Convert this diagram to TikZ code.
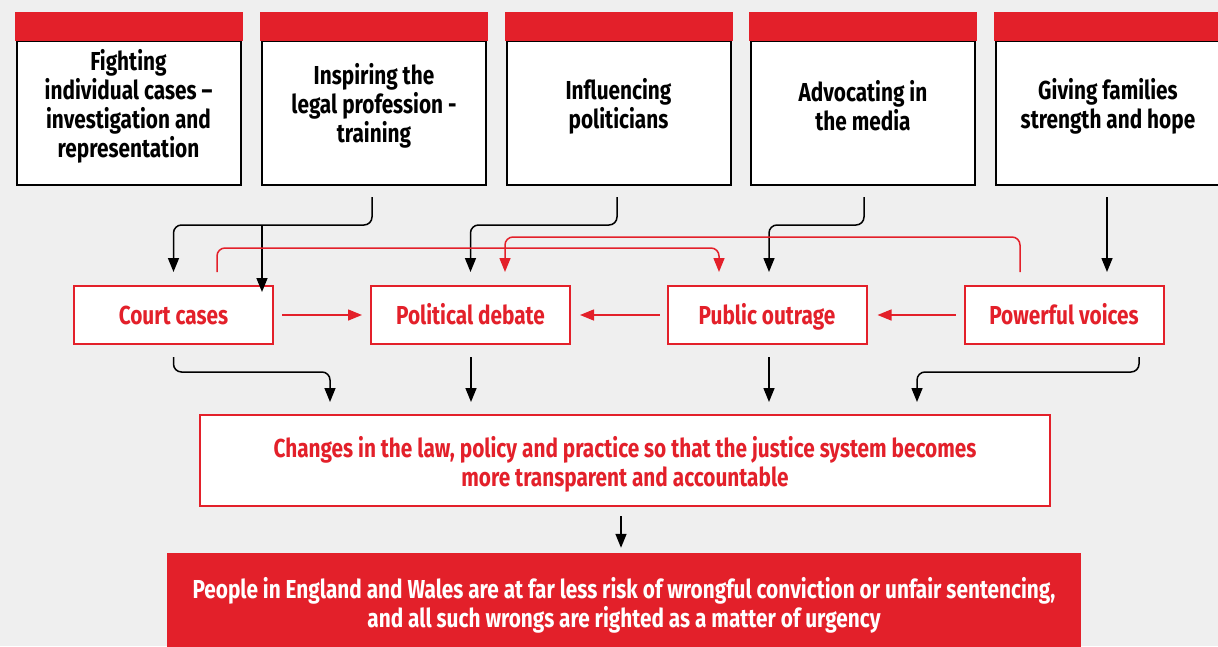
\documentclass[tikz,border=0pt]{standalone}
\usepackage{fontspec}
\setmainfont{Fira Sans}[FakeStretch=0.80]
\usetikzlibrary{arrows.meta,calc}
\definecolor{brandred}{HTML}{E3202A}
\definecolor{paper}{HTML}{EFEFEF}
\begin{document}
\begin{tikzpicture}[x=1pt,y=-1pt,
  txt/.style={font=\bfseries\fontsize{26}{29}\selectfont, align=center, inner sep=0pt},
  actbox/.style={draw=black, line width=2pt, fill=white, minimum width=224pt, minimum height=144pt, inner sep=0pt},
  midbox/.style={draw=brandred, line width=2pt, fill=white, minimum width=199pt, minimum height=58pt, text=brandred, txt, text height=21pt, text depth=3pt},
  blk/.style={draw=black, line width=1.5pt, rounded corners=8pt, -{Triangle[length=14pt,width=11pt]}},
  redarr/.style={draw=brandred, line width=1.5pt, rounded corners=8pt, -{Triangle[length=14pt,width=11pt]}}]
\fill[paper] (0,0) rectangle (1218,646);
\useasboundingbox (0,0) rectangle (1218,646);

% activity boxes with red header bands
\foreach \n/\x in {1/128.5, 2/374, 3/618.5, 4/863, 5/1108} {
  \node[actbox] (a\n) at (\x,113) {};
  \fill[brandred] ($(a\n.north west)+(-1,1)$) rectangle ($(a\n.north east)+(1,-28)$);
}
\node[txt] (t1) at (128.5,106) {Fighting\\individual cases –\\investigation and\\representation};
\node[txt] (t2) at (374,106) {Inspiring the\\legal profession -\\training};
\node[txt] (t3) at (618.5,106) {Influencing\\politicians};
\node[txt] (t4) at (863,106) {Advocating in\\the media};
\node[txt] (t5) at (1108,106) {Giving families\\strength and hope};

% intermediate outcomes
\node[midbox] (b1) at (173.5,315) {Court cases};
\node[midbox] (b2) at (470.5,315) {Political debate};
\node[midbox] (b3) at (767,315) {Public outrage};
\node[midbox] (b4) at (1064,315) {Powerful voices};

% system change and final outcome
\node[draw=brandred, line width=2pt, fill=white, minimum width=850pt, minimum height=91pt, text=brandred, txt] (c) at (625,460.5)
  {\rule{0pt}{4pt}\\[-4pt]Changes in the law, policy and practice so that the justice system becomes\\more transparent and accountable};
\node[fill=brandred, minimum width=914pt, minimum height=97pt, text=white, txt] (d) at (624,601.5)
  {\rule{0pt}{4pt}\\[-4pt]People in England and Wales are at far less risk of wrongful conviction or unfair sentencing,\\and all such wrongs are righted as a matter of urgency};

% activities feeding outcomes
\draw[blk] ($(a2.south)+(-2,11)$) |- ($(b1.north)+(0,-60)$) -- ($(b1.north)+(0,-13)$);
\coordinate (br) at (262,226);
\draw[blk] (br) -- ($(br |- b1.north)+(0,7)$);
\draw[blk] ($(a3.south)+(-1.5,11)$) |- ($(b2.north)+(0,-60)$) -- ($(b2.north)+(0,-13)$);
\draw[blk] ($(a4.south)+(1,11)$) |- ($(b3.north)+(2,-60)$) -- ($(b3.north)+(2,-13)$);
\draw[blk] ($(a5.south)+(-1,11)$) -- ($(a5.south |- b4.north)+(-1,-13)$);

% feedback loops between outcomes
\draw[redarr] ($(b1.north)+(43.5,-13)$) |- ($(b3.north)+(-48,-37)$) -- ($(b3.north)+(-48,-13)$);
\draw[redarr] ($(b4.north)+(-44,-13)$) |- ($(b2.north)+(34.5,-48)$) -- ($(b2.north)+(34.5,-13)$);
\draw[redarr] ($(b1.east)+(8,0)$) -- ($(b2.west)+(-8,0)$);
\draw[redarr] ($(b3.west)+(-7,0)$) -- ($(b2.east)+(9,0)$);
\draw[redarr] ($(b4.west)+(-8,0)$) -- ($(b3.east)+(10,0)$);

% outcomes feeding system change
\draw[blk] ($(b1.south)+(0,12)$) |- ($(c.north)+(-295,-42)$) -- ($(c.north)+(-295,-12)$);
\draw[blk] ($(b2.south)+(0.5,12)$) -- ($(b2.south |- c.north)+(0.5,-12)$);
\draw[blk] ($(b3.south)+(2,12)$) -- ($(b3.south |- c.north)+(2,-12)$);
\draw[blk] ($(b4.south)+(75,12)$) |- ($(c.north)+(292,-42)$) -- ($(c.north)+(292,-12)$);
\draw[blk] ($(c.south)+(-4,9)$) -- ($(c.south |- d.north)+(-4,-5)$);
\end{tikzpicture}
\end{document}
